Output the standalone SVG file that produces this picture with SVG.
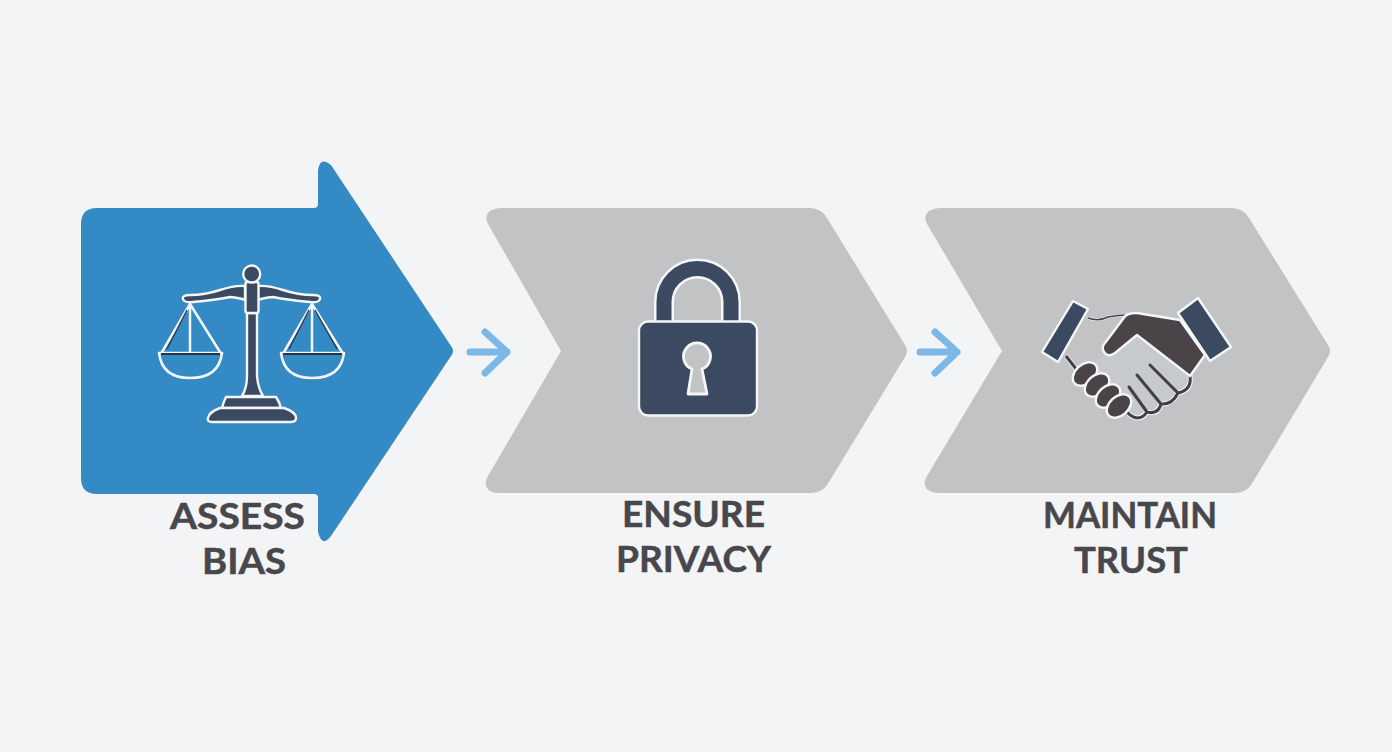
<svg xmlns="http://www.w3.org/2000/svg" width="1392" height="752" viewBox="0 0 1392 752">
<style>
.lbl{font-family:"Lato","Liberation Sans",sans-serif;font-weight:700;font-size:37px;fill:#47474c;stroke:#47474c;stroke-width:.5;text-anchor:middle}
.ic{fill:#3b4a60;stroke:#f4f6f8;stroke-width:2.400;stroke-linejoin:round}
.wl{fill:none;stroke:#f4f6f8;stroke-width:2.500;stroke-linecap:round;stroke-linejoin:round}
.dl{fill:none;stroke:#3f4146;stroke-width:3;stroke-linecap:round;stroke-linejoin:round}
.grey{fill:#c1c3c5}
.arr{fill:none;stroke:#7db7e6;stroke-width:7;stroke-linecap:round;stroke-linejoin:round}
.hand{fill:#4a4347;stroke:#f4f6f8;stroke-width:2.400;stroke-linejoin:round}
</style>
<rect width="1392" height="752" fill="#f3f4f6"/>
<g id="connectors">
<path class="arr" d="M470 352H507M485 332L507 352L485 373"/>
<path class="arr" d="M920 352H957M935 332L957 352L935 373"/>
</g>
<g id="node-assess">
<path fill="#338ac4" d="M97 208H314Q318 208 318 204V170Q320 156 331 165L451 346Q455 351 451 356L331 536Q322 548 318 532V498Q318 494 314 494H97Q81 494 81 478V224Q81 208 97 208Z"/>
<path class="wl" d="M190 304L162 352M190 304L220 352M190 304V352M312 304L284 352M312 304L342 352M312 304V352"/>
<path fill="none" stroke="#2f3a4c" stroke-width="1.400" d="M187 310L167 349M315 310L337 349M309 310L289 349"/>
<path class="wl" d="M159 353H222Q219 378 190 378Q162 378 159 353ZM281 353H344Q341 378 312 378Q284 378 281 353Z"/>
<path d="M161 354H220M283 354H342" stroke="#2a3342" stroke-width="2.200" fill="none"/>
<path class="ic" d="M245 286Q235 285 220 290Q205 295 190 295Q182 295 183 299Q184 303 193 302Q215 300 230 297Q240 298 245 300ZM258 286Q268 285 283 290Q298 295 313 295Q321 295 320 299Q319 303 310 302Q288 300 273 297Q263 298 258 300Z"/>
<path class="ic" d="M247 313H257V376Q258 388 263 396H242Q247 388 247 376Z"/>
<rect class="ic" x="245.500" y="282" width="13" height="31" rx="2"/>
<circle class="ic" cx="251.700" cy="274" r="8.500"/>
<path class="ic" d="M226 397H276Q280 403 281 408H222Q223 403 226 397Z"/>
<path class="ic" d="M220 408H284Q296 412 296 418Q296 422 291 422H212Q207 422 208 418Q209 412 220 408Z"/>
</g>
<g id="node-privacy">
<path class="grey" d="M501 208H810Q821 208 827 218L905 345Q909 351 905 357L829 482Q823 493 811 493H499Q490 493 487 488Q484 482 488 476L561 351L488 224Q484 216 490 211Q495 208 501 208Z"/>
<path d="M664 322V302A33.500 33.500 0 0 1 731 302V322" fill="none" stroke="#f4f6f8" stroke-width="20"/>
<path d="M664 322V302A33.500 33.500 0 0 1 731 302V322" fill="none" stroke="#3b4a60" stroke-width="15"/>
<rect class="ic" x="639" y="321.500" width="118" height="94" rx="9"/>
<path d="M688 394L692 369A13.500 13.500 0 1 1 702 369L707 394Z" fill="#c1c3c5" stroke="#f4f6f8" stroke-width="2.800" stroke-linejoin="round"/>
</g>
<g id="node-trust">
<path class="grey" d="M940 208H1232Q1243 208 1249 218L1328 345Q1332 351 1328 357L1253 482Q1247 493 1235 493H939Q930 493 926 488Q923 482 927 476L1002 351L927 224Q923 216 929 211Q934 208 940 208Z"/>
<path d="M1088 318Q1098 322 1108 317Q1118 315 1127 315" fill="none" stroke="#f4f6f8" stroke-width="2.600"/>
<path d="M1088 318Q1098 322 1108 317Q1118 315 1127 315" fill="none" stroke="#3f4146" stroke-width="1.400"/>
<path d="M1066 356L1077 370" stroke="#f4f6f8" stroke-width="4.500" fill="none"/>
<path d="M1066 356L1077 370" stroke="#3f4146" stroke-width="3" fill="none"/>
<path d="M1137 335L1190 376Q1192 390 1178 393Q1172 405 1161 404Q1158 415 1147 412Q1140 422 1130 415L1090 366L1108 353Z" fill="#c7cacd"/>
<path class="wl" style="stroke-width:5" d="M1190 376Q1192 390 1178 393Q1172 405 1161 404Q1158 415 1147 412Q1140 422 1130 415"/>
<path class="dl" d="M1190 376Q1192 390 1178 393L1150 365M1178 393Q1172 405 1161 404L1137 375M1161 404Q1158 415 1147 412L1129 387M1147 412Q1140 422 1130 415L1123 408"/>
<path class="hand" d="M1129 314Q1135 312 1143 314L1180 320L1205 355L1190 376L1137 335L1115 353Q1108 358 1104 352Q1101 347 1105 343L1123 319Q1125 315 1129 314Z"/>
<ellipse class="hand" cx="1085" cy="374" rx="14" ry="9.500" transform="rotate(-42 1085 374)"/>
<ellipse class="hand" cx="1097" cy="385" rx="14" ry="9.500" transform="rotate(-42 1097 385)"/>
<ellipse class="hand" cx="1108" cy="396" rx="14" ry="9.500" transform="rotate(-42 1108 396)"/>
<ellipse class="hand" cx="1119" cy="406" rx="14" ry="9.500" transform="rotate(-42 1119 406)"/>
<path class="ic" d="M1073 301L1088 309L1058 362L1042 352Z"/>
<path class="ic" d="M1198 298L1231 347L1210 361L1178 313Z"/>
</g>
<g id="labels">
<text class="lbl" x="237.500" y="529" textLength="135" lengthAdjust="spacingAndGlyphs">ASSESS</text>
<text class="lbl" x="244" y="574" textLength="84" lengthAdjust="spacingAndGlyphs">BIAS</text>
<text class="lbl" x="693.500" y="527" textLength="143" lengthAdjust="spacingAndGlyphs">ENSURE</text>
<text class="lbl" x="693.500" y="572" textLength="155" lengthAdjust="spacingAndGlyphs">PRIVACY</text>
<text class="lbl" x="1130" y="528" textLength="174" lengthAdjust="spacingAndGlyphs">MAINTAIN</text>
<text class="lbl" x="1131" y="573" textLength="114" lengthAdjust="spacingAndGlyphs">TRUST</text>
</g>
</svg>
